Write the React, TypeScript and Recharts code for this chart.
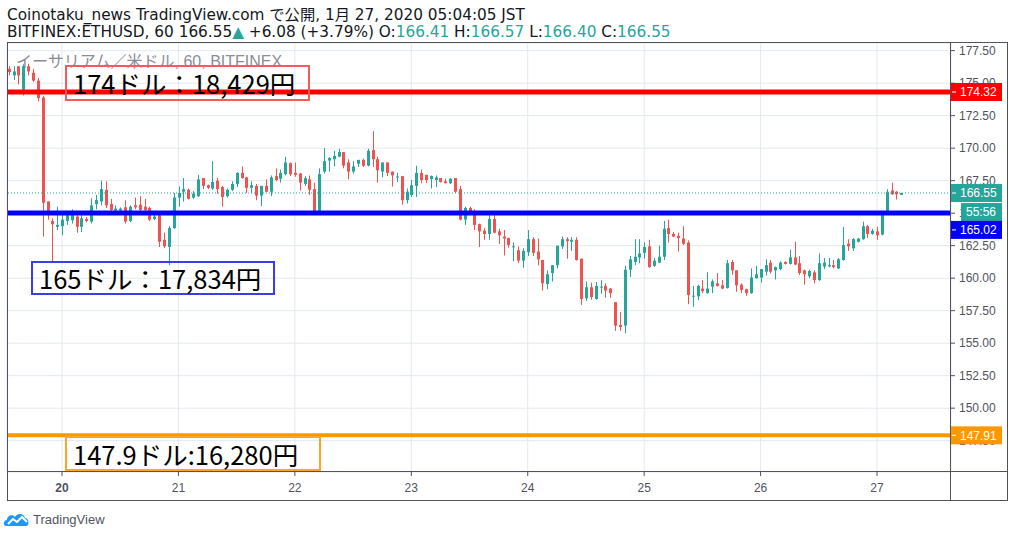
import React from 'react';
import {
  Bar,
  CartesianGrid,
  ComposedChart,
  ReferenceLine,
  XAxis,
  YAxis,
} from 'recharts';

// hours counted from 1月20日 00:00 JST; first visible candle is 19日 13:00
const FIRST_HOUR = -11;

const OPEN = [
  176.1, 175.6, 176.3, 174.5, 176.3, 175.8, 175.2, 173.9, 165.9, 164.4,
  163.95, 164.0, 164.4, 164.45, 164.75, 163.95, 164.55, 164.35, 165.7, 165.9,
  166.8, 165.7, 165.2, 165.2, 165.45, 164.4, 165.6, 165.65, 165.5, 165.4,
  164.55, 164.85, 162.95, 162.4, 163.85, 166.2, 166.65, 166.8, 166.2, 166.3,
  167.7, 167.15, 166.9, 167.5, 167.0, 166.3, 166.8, 167.25, 168.1, 167.75,
  166.95, 167.1, 166.35, 167.1, 166.65, 167.85, 167.65, 168.0, 168.85, 168.1,
  168.05, 167.25, 167.6, 166.85, 165.1, 168.2, 169.05, 169.15, 169.35, 169.7,
  168.9, 168.2, 168.8, 169.1, 168.65, 169.85, 169.15, 168.2, 168.9, 168.2,
  167.76, 167.85, 166.0, 166.4, 167.1, 168.1, 167.95, 167.63, 167.55, 167.7,
  167.45, 167.3, 167.7, 166.85, 164.5, 165.4, 165.1, 164.15, 163.65, 163.4,
  164.55, 163.6, 163.2, 163.1, 162.4, 162.15, 161.35, 162.0, 163.0, 162.05,
  161.4, 159.55, 160.4, 161.0, 162.45, 163.0, 162.8, 162.95, 161.5, 158.45,
  159.3, 158.4, 159.28, 159.4, 159.2, 158.15, 156.4, 156.35, 160.65, 161.25,
  161.6, 161.95, 162.45, 160.95, 161.2, 161.65, 163.85, 163.4, 163.25, 163.05,
  162.75, 158.6, 158.6, 159.2, 158.85, 159.35, 159.6, 159.45, 159.25, 161.25,
  160.6, 159.5, 159.15, 158.85, 160.0, 160.05, 160.5, 161.2, 160.6, 160.7,
  161.25, 161.1, 161.6, 161.15, 160.6, 160.15, 160.45, 159.85, 160.9, 160.9,
  161.0, 160.75, 161.4, 162.65, 162.3, 162.8, 163.0, 164.0, 163.4, 163.6,
  163.35, 165.0, 166.75, 166.65, 166.41,
];

const HIGH = [
  176.3, 176.3, 176.3, 176.45, 176.5, 176.1, 175.4, 174.0, 165.9, 164.6,
  165.5, 165.1, 165.1, 165.3, 164.85, 165.0, 164.7, 166.15, 166.4, 167.5,
  167.45, 166.1, 165.6, 165.45, 166.0, 165.6, 166.2, 166.3, 166.1, 165.5,
  164.9, 165.1, 163.5, 164.0, 166.55, 167.05, 167.7, 166.9, 166.7, 167.95,
  167.7, 167.2, 169.0, 167.7, 167.1, 166.9, 167.45, 168.15, 168.6, 167.8,
  167.45, 167.25, 167.1, 167.6, 167.9, 168.45, 168.35, 169.35, 168.9, 168.9,
  168.1, 167.85, 167.9, 167.35, 168.45, 170.0, 169.3, 169.8, 169.95, 169.7,
  169.15, 169.0, 169.1, 169.2, 169.95, 171.3, 169.35, 168.9, 168.9, 168.2,
  168.1, 167.85, 166.9, 167.55, 168.65, 168.35, 167.95, 167.9, 167.9, 167.7,
  167.65, 167.7, 167.7, 167.1, 165.5, 165.5, 165.3, 164.2, 163.85, 165.1,
  164.85, 163.8, 163.7, 163.1, 162.75, 162.45, 162.3, 163.7, 163.15, 163.05,
  161.4, 160.6, 161.0, 162.5, 163.2, 163.15, 163.15, 163.15, 161.5, 159.75,
  159.65, 159.7, 159.85, 159.6, 159.25, 158.15, 157.4, 160.95, 161.7, 163.0,
  163.0, 162.75, 162.95, 161.55, 162.5, 164.4, 164.5, 163.55, 163.5, 164.0,
  162.9, 159.4, 159.5, 159.85, 160.45, 159.9, 160.4, 159.85, 161.4, 161.4,
  160.6, 159.6, 159.2, 160.75, 160.95, 160.7, 161.45, 161.4, 160.9, 161.3,
  161.3, 162.2, 162.8, 161.7, 160.65, 160.65, 160.6, 161.9, 161.55, 161.55,
  161.4, 161.55, 163.95, 163.0, 163.1, 163.1, 164.35, 164.1, 163.8, 163.95,
  165.0, 166.85, 167.35, 166.7, 166.57,
];

const LOW = [
  175.6, 175.25, 174.9, 174.05, 175.6, 175.1, 173.6, 163.2, 164.5, 161.3,
  163.7, 163.3, 164.1, 164.2, 163.5, 163.55, 164.3, 164.2, 165.3, 165.6,
  165.4, 164.9, 164.9, 165.0, 164.2, 164.3, 165.3, 165.1, 164.85, 164.4,
  164.45, 162.4, 162.3, 161.0, 163.8, 165.5, 165.9, 166.05, 166.1, 166.25,
  166.85, 166.85, 166.8, 166.5, 165.5, 166.2, 166.7, 167.0, 167.65, 166.55,
  166.55, 166.0, 165.55, 166.6, 166.3, 167.45, 167.35, 167.9, 167.85, 167.8,
  166.75, 167.1, 166.4, 165.05, 165.05, 168.05, 168.2, 168.6, 169.3, 168.45,
  167.6, 168.05, 168.55, 168.55, 168.6, 168.55, 167.35, 167.75, 167.85, 167.05,
  167.4, 165.65, 165.75, 166.25, 166.25, 167.3, 167.3, 166.9, 167.0, 167.35,
  167.3, 167.25, 166.55, 164.45, 164.1, 164.9, 163.7, 162.4, 162.95, 162.95,
  163.45, 162.63, 161.75, 162.35, 161.3, 161.15, 160.8, 161.7, 161.7, 161.0,
  159.05, 159.15, 159.75, 160.75, 162.25, 161.5, 162.1, 161.35, 157.95, 158.25,
  158.35, 158.35, 158.8, 158.5, 158.5, 155.95, 155.95, 155.75, 160.1, 161.0,
  161.15, 161.5, 160.8, 160.85, 161.15, 161.4, 162.75, 163.15, 162.05, 162.55,
  158.0, 157.8, 158.3, 158.85, 158.8, 158.85, 159.35, 159.15, 159.2, 160.25,
  158.95, 158.85, 158.65, 158.8, 159.95, 159.65, 160.2, 160.35, 159.9, 160.6,
  161.05, 161.05, 161.0, 160.25, 159.5, 160.0, 159.6, 159.8, 160.7, 160.85,
  160.75, 160.7, 161.35, 162.1, 162.1, 162.75, 162.95, 163.1, 163.35, 162.95,
  163.3, 164.95, 166.4, 166.05, 166.4,
];

const CLOSE = [
  175.85, 175.9, 175.6, 176.3, 175.9, 175.2, 173.85, 165.8, 165.1, 164.15,
  164.1, 164.5, 164.85, 165.0, 163.95, 164.6, 164.4, 165.6, 166.0, 166.85,
  165.6, 165.25, 165.35, 165.35, 164.35, 165.5, 165.45, 165.25, 165.25, 164.5,
  164.75, 162.8, 162.45, 163.85, 166.2, 166.55, 166.85, 166.1, 166.5, 167.6,
  167.1, 166.95, 167.4, 166.85, 166.25, 166.8, 167.25, 168.1, 167.7, 166.95,
  167.15, 166.35, 167.1, 166.65, 167.75, 167.55, 168.1, 168.9, 168.0, 167.95,
  167.35, 167.7, 166.8, 165.1, 168.0, 169.0, 169.25, 169.4, 169.7, 168.65,
  168.2, 168.6, 169.1, 168.65, 169.8, 169.15, 168.3, 168.9, 168.1, 167.9,
  167.82, 166.0, 166.65, 167.15, 168.1, 167.55, 167.55, 167.86, 167.75, 167.4,
  167.3, 167.65, 166.65, 164.5, 165.4, 165.15, 164.1, 163.6, 163.4, 164.55,
  163.5, 163.3, 163.05, 162.55, 162.45, 161.35, 162.1, 163.0, 161.95, 161.45,
  159.6, 160.3, 161.0, 162.5, 163.0, 162.85, 162.95, 161.4, 158.4, 159.3,
  158.55, 159.4, 159.35, 159.05, 158.85, 156.35, 156.25, 160.65, 161.45, 161.65,
  161.9, 162.4, 160.85, 161.35, 161.65, 163.8, 163.4, 163.2, 163.1, 162.65,
  158.7, 158.65, 159.4, 159.0, 159.2, 159.75, 159.4, 159.2, 161.15, 160.6,
  159.45, 159.1, 158.85, 160.05, 160.3, 160.7, 161.0, 160.5, 160.85, 161.2,
  161.1, 161.6, 161.05, 160.4, 160.3, 160.55, 159.85, 161.15, 161.2, 161.0,
  160.85, 161.45, 162.55, 162.45, 163.0, 163.05, 164.0, 163.4, 163.65, 163.3,
  165.0, 166.65, 166.45, 166.45, 166.55,
];

const DAY_TICKS = [0, 24, 48, 72, 96, 120, 144, 168];
const DAY_LABELS = ['20', '21', '22', '23', '24', '25', '26', '27'];
const PRICE_TICKS = [
  147.5, 150, 152.5, 155, 157.5, 160, 162.5, 165, 167.5, 170, 172.5, 175, 177.5,
];

const LEVEL_174 = 174.32;
const LEVEL_165 = 165.02;
const LEVEL_147 = 147.91;
const LAST_PRICE = 166.55;

const UP = '#26a69a';
const DOWN = '#ef5350';
const AXIS = '#50535e';
const FONT = '"Liberation Sans", Arial, "Noto Sans CJK JP", sans-serif';
const HEAD_FONT = '"DejaVu Sans", "Noto Sans CJK JP", sans-serif';
const JP_FONT = '"Noto Sans CJK JP", "Noto Sans", sans-serif';

const X_DOMAIN = [-11.34, 183.25];
const Y_DOMAIN = [145.09, 178.09];
const MARGIN = { top: 43, right: 7, bottom: 37, left: 7 };

const candles = OPEN.map((open, i) => ({
  t: FIRST_HOUR + i,
  open,
  high: HIGH[i],
  low: LOW[i],
  close: CLOSE[i],
}));

function Candle(props: any) {
  const { x, y, width, height, payload } = props;
  if (!payload) return null;
  const { open, close, high, low } = payload;
  const top = Math.min(y, y + height);
  const h = Math.abs(height);
  const per = high > low ? h / (high - low) : 0;
  const cx = Math.round(x + width / 2);
  const color = close >= open ? UP : DOWN;
  const bodyTop = top + (high - Math.max(open, close)) * per;
  const bodyH = Math.max(1, Math.abs(open - close) * per);
  return (
    <g>
      <rect x={cx} y={top} width={1} height={Math.max(1, h)} fill={color} />
      <rect x={cx - 1} y={bodyTop} width={3} height={bodyH} fill={color} />
    </g>
  );
}

function PriceTag(props: any) {
  const { viewBox, text, bg, dy = 0, inset = 0 } = props;
  if (!viewBox) return null;
  const left = viewBox.x + viewBox.width;
  const cy = viewBox.y + dy;
  return (
    <g>
      <rect x={left + inset} y={cy - 9} width={51 - inset} height={18} fill={bg} />
      {inset === 0 && (
        <line x1={left + 1} x2={left + 5} y1={cy} y2={cy} stroke="#fff" strokeWidth={1} />
      )}
      <text
        x={left + (inset ? inset + 5 : 9)}
        y={cy}
        dy="0.36em"
        fill="#fff"
        fontSize={12}
        fontFamily={FONT}
      >
        {text}
      </text>
    </g>
  );
}

function DayTick(props: any) {
  const { x, y, payload } = props;
  const i = DAY_TICKS.indexOf(payload.value);
  return (
    <text
      x={x}
      y={y}
      dy="0.71em"
      textAnchor="middle"
      fontSize={12}
      fontWeight={i === 0 ? 'bold' : 'normal'}
      fill={AXIS}
      fontFamily={FONT}
    >
      {DAY_LABELS[i]}
    </text>
  );
}

function PriceTick(props: any) {
  const { x, y, payload } = props;
  return (
    <text x={x} y={y} dy="0.36em" fontSize={12} fill={AXIS} fontFamily={FONT}>
      {Number(payload.value).toFixed(2)}
    </text>
  );
}

function NoteBox({ left, top, width, height, color, text }: any) {
  return (
    <div
      style={{
        position: 'absolute',
        left,
        top,
        width,
        height,
        boxSizing: 'border-box',
        border: `2px solid ${color}`,
        fontFamily: JP_FONT,
        fontSize: 25.5,
        lineHeight: `${height - 4}px`,
        paddingLeft: 6,
        color: '#000',
        whiteSpace: 'nowrap',
      }}
    >
      {text}
    </div>
  );
}

// price tags on the right axis, drawn in a second chart on top of the axis labels
function TagLayer() {
  return (
    <ComposedChart width={1014} height={537} data={candles} margin={MARGIN}>
      <XAxis
        dataKey="t"
        type="number"
        domain={X_DOMAIN}
        allowDataOverflow
        height={28}
        tick={false}
        tickLine={false}
        axisLine={false}
      />
      <YAxis
        orientation="right"
        type="number"
        domain={Y_DOMAIN}
        allowDataOverflow
        width={56}
        tick={false}
        tickLine={false}
        axisLine={false}
      />
      <ReferenceLine y={LAST_PRICE} stroke="none" label={<PriceTag text="166.55" bg={UP} />} />
      <ReferenceLine
        y={LAST_PRICE}
        stroke="none"
        label={<PriceTag text="55:56" bg={UP} dy={19} inset={10} />}
      />
      <ReferenceLine y={LEVEL_174} stroke="none" label={<PriceTag text="174.32" bg="#ff0000" />} />
      <ReferenceLine
        y={LEVEL_165}
        stroke="none"
        label={<PriceTag text="165.02" bg="#0000ff" dy={17} />}
      />
      <ReferenceLine y={LEVEL_147} stroke="none" label={<PriceTag text="147.91" bg="#ff9800" />} />
    </ComposedChart>
  );
}

export default function App() {
  return (
    <div
      style={{
        position: 'absolute',
        left: 0,
        top: 0,
        width: 1014,
        height: 537,
        background: '#fff',
        overflow: 'hidden',
      }}
    >
      <svg
        width={1014}
        height={40}
        style={{ position: 'absolute', left: 0, top: 0 }}
        fontFamily={HEAD_FONT}
      >
        <text x={7} y={20} fontSize={15.3} fill="#131722">
          Coinotaku_news TradingView.com で公開, 1月 27, 2020 05:04:05 JST
        </text>
        <text x={7} y={37} fontSize={15.3} fill="#131722">
          BITFINEX:ETHUSD, 60 166.55
          <tspan fill={UP}>▲</tspan>
          <tspan> +6.08 (+3.79%) O:</tspan>
          <tspan fill={UP}>166.41</tspan>
          <tspan> H:</tspan>
          <tspan fill={UP}>166.57</tspan>
          <tspan> L:</tspan>
          <tspan fill={UP}>166.40</tspan>
          <tspan> C:</tspan>
          <tspan fill={UP}>166.55</tspan>
        </text>
      </svg>

      <div style={{ position: 'absolute', left: 0, top: 0 }}>
        <ComposedChart width={1014} height={537} data={candles} margin={MARGIN}>
          <CartesianGrid stroke="#e3e9f0" strokeWidth={1} />
          <XAxis
            dataKey="t"
            type="number"
            domain={X_DOMAIN}
            allowDataOverflow
            ticks={DAY_TICKS}
            interval={0}
            height={28}
            tickSize={4}
            tickMargin={7}
            axisLine={false}
            tickLine={{ stroke: AXIS }}
            tick={<DayTick />}
          />
          <YAxis
            orientation="right"
            type="number"
            domain={Y_DOMAIN}
            allowDataOverflow
            ticks={PRICE_TICKS}
            interval={0}
            width={56}
            tickSize={4}
            tickMargin={4}
            axisLine={false}
            tickLine={{ stroke: AXIS }}
            tick={<PriceTick />}
          />
          <text x={16} y={67} fontSize={16} fill="#8a8d96" fontFamily={FONT}>
            イーサリアム／米ドル, 60, BITFINEX
          </text>
          <Bar
            dataKey={(d: any) => [d.low, d.high]}
            barSize={3}
            shape={(p: any) => <Candle {...p} />}
            isAnimationActive={false}
          />
          <ReferenceLine y={LAST_PRICE} stroke={UP} strokeDasharray="1 2" />
          <ReferenceLine y={LEVEL_174} stroke="#ff0000" strokeWidth={5} />
          <ReferenceLine y={LEVEL_165} stroke="#0000ff" strokeWidth={5} />
          <ReferenceLine y={LEVEL_147} stroke="#ff9800" strokeWidth={4} />
        </ComposedChart>
      </div>

      <div style={{ position: 'absolute', left: 0, top: 0, pointerEvents: 'none' }}>
        <TagLayer />
      </div>

      {/* frame */}
      <div
        style={{
          position: 'absolute',
          left: 7,
          top: 42,
          width: 1001,
          height: 459,
          boxSizing: 'border-box',
          border: `1px solid ${AXIS}`,
          pointerEvents: 'none',
        }}
      />
      <div style={{ position: 'absolute', left: 950, top: 42, width: 1, height: 459, background: AXIS }} />
      <div style={{ position: 'absolute', left: 7, top: 471, width: 1001, height: 1, background: AXIS }} />

      <NoteBox left={65} top={65} width={245} height={36} color="#f55b5b" text="174ドル：18,429円" />
      <NoteBox left={31} top={261} width={244} height={34} color="#3b3bf0" text="165ドル：17,834円" />
      <NoteBox left={65} top={436} width={256} height={35} color="#ffa526" text="147.9ドル:16,280円" />

      <svg width={120} height={26} style={{ position: 'absolute', left: 0, top: 507 }}>
        <path
          d="M6 19 C3 19 3 13 7 13 C7 8 13 7 15 10 C17 6 24 6 25 11 C29 11 30 19 26 19 Z"
          fill="#2196f3"
        />
        <path d="M8 17 L13 12 L17 15 L22 10 L27 15" fill="none" stroke="#fff" strokeWidth={2} />
        <text x={33} y={17} fontSize={13} fill={AXIS} fontFamily={FONT}>
          TradingView
        </text>
      </svg>
    </div>
  );
}
